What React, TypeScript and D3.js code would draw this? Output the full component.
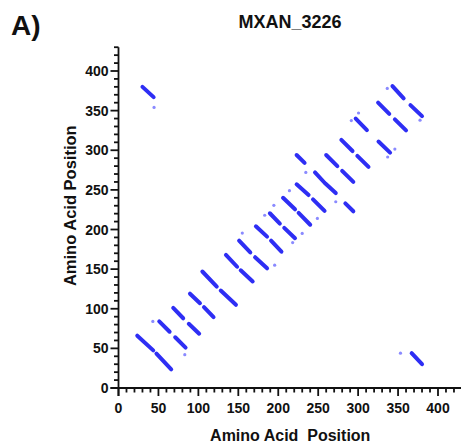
import * as d3 from "d3";

// dot plot segments: [x1, y1, x2, y2] in amino acid positions
const segments: number[][] = [
  [23.5, 66, 43.5, 47.5],
  [47.5, 43.5, 66, 23.5],
  [51, 84, 64, 71],
  [71, 64, 84, 51],
  [68.5, 101, 81, 88],
  [88, 81, 101, 68.5],
  [89.5, 119, 102, 107],
  [107, 102, 119, 89.5],
  [105, 147, 123, 128],
  [128, 123, 147, 105],
  [134.5, 168, 148.5, 153],
  [153, 148.5, 168, 134.5],
  [151, 186, 165, 171],
  [171, 165, 186, 151],
  [172, 204, 186, 191],
  [191, 186, 204, 172],
  [189.5, 220.5, 202, 207.5],
  [207.5, 202, 221, 189],
  [206, 240, 221, 225.5],
  [225.5, 221, 240, 206],
  [223, 257, 238, 243.5],
  [243.5, 238, 258, 223.5],
  [223, 294, 233, 284],
  [284, 233, 294, 223],
  [246, 272, 258, 259],
  [259, 258, 272, 246],
  [260, 294, 274, 280],
  [280, 274, 294, 260],
  [279, 313, 293, 299],
  [299, 293, 313, 279],
  [297, 340, 311, 325.5],
  [325.5, 311, 340, 297],
  [325, 360, 339, 346],
  [346, 339, 360, 325],
  [343, 381, 357, 365.5],
  [365.5, 357, 380, 343],
  [30, 380, 44, 367],
  [367, 44, 380, 30],
];

// isolated faint matches
const dots: number[][] = [
  [44.5, 354], [353, 44],
  [43, 84], [83, 42],
  [155, 195.5], [195.5, 155],
  [183, 218], [218, 183.5],
  [194.5, 230.5], [230, 195],
  [214, 249], [249, 214],
  [234.5, 272], [272, 235],
  [336.5, 378], [377.5, 338],
  [300.5, 347], [346, 301.5],
  [291.5, 337.5], [337, 291.5],
];

const majorTicks = [0, 50, 100, 150, 200, 250, 300, 350, 400];
const minorTicks = d3.range(0, 431, 10);

const font = "'Liberation Sans', Arial, Helvetica, sans-serif";

export default function App() {
  const x = d3.scaleLinear().domain([0, 400]).range([118.5, 438]);
  const y = d3.scaleLinear().domain([0, 400]).range([388, 71]);
  const ink = "#111";

  return (
    <svg
      width={461}
      height={443}
      style={{ position: "absolute", left: 0, top: 0, background: "#fff" }}
      fontFamily={font}
    >
      <text x={11} y={35} fontSize={28} fontWeight="bold" fill={ink}>A)</text>
      <text x={290} y={28} fontSize={18} fontWeight="bold" fill={ink} textAnchor="middle">
        MXAN_3226
      </text>

      {/* marks */}
      <g>
        {dots.map((d, i) => (
          <circle key={"d" + i} cx={x(d[0])} cy={y(d[1])} r={1.6} fill="#8a8aff" />
        ))}
        {segments.map((s, i) => (
          <line
            key={"s" + i}
            x1={x(s[0])}
            y1={y(s[1])}
            x2={x(s[2])}
            y2={y(s[3])}
            stroke="#2e2ef4"
            strokeWidth={4}
            strokeLinecap="round"
          />
        ))}
      </g>

      {/* y axis */}
      <g stroke={ink} strokeWidth={1.8}>
        <line x1={x(0)} x2={x(0)} y1={y(0) + 8} y2={y(430)} />
        {minorTicks.map((t) => (
          <line
            key={"ym" + t}
            x1={x(0)}
            x2={x(0) - (t % 50 === 0 ? 8 : 4.5)}
            y1={y(t)}
            y2={y(t)}
          />
        ))}
      </g>
      <g fontSize={14} fontWeight="bold" fill={ink} textAnchor="end">
        {majorTicks.map((t) => (
          <text key={"yl" + t} x={x(0) - 10} y={y(t) + 5}>{t}</text>
        ))}
      </g>

      {/* x axis */}
      <g stroke={ink} strokeWidth={1.8}>
        <line x1={x(0) - 8} x2={x(430)} y1={y(0)} y2={y(0)} />
        {minorTicks.map((t) => (
          <line
            key={"xm" + t}
            x1={x(t)}
            x2={x(t)}
            y1={y(0)}
            y2={y(0) + (t % 50 === 0 ? 8 : 4.5)}
          />
        ))}
      </g>
      <g fontSize={14} fontWeight="bold" fill={ink} textAnchor="middle">
        {majorTicks.map((t) => (
          <text key={"xl" + t} x={x(t)} y={413}>{t}</text>
        ))}
      </g>

      <text
        x={x(215)}
        y={441}
        fontSize={16}
        fontWeight="bold"
        fill={ink}
        textAnchor="middle"
        style={{ whiteSpace: "pre" }}
      >
        {"Amino Acid  Position"}
      </text>
      <text
        transform={`translate(76,${y(230)}) rotate(-90)`}
        fontSize={16.5}
        fontWeight="bold"
        fill={ink}
        textAnchor="middle"
      >
        Amino Acid Position
      </text>
    </svg>
  );
}
